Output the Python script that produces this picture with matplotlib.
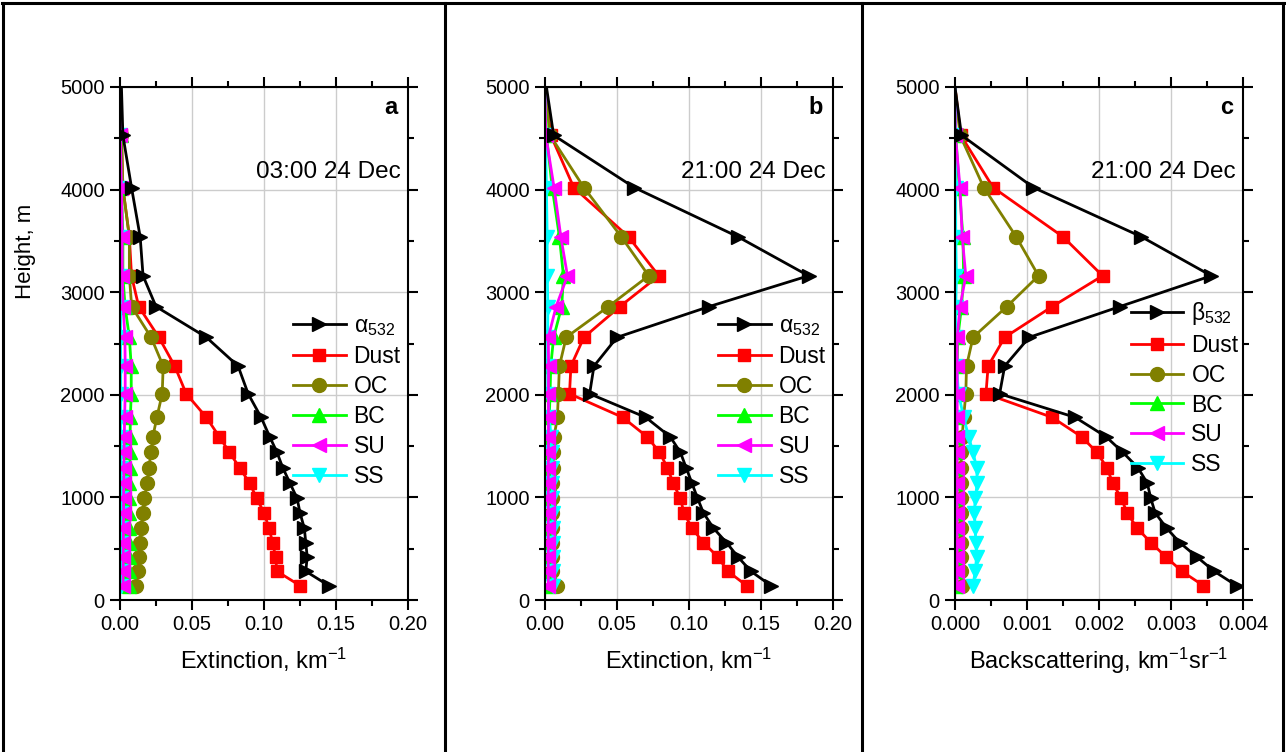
import matplotlib
matplotlib.use('Agg')
import matplotlib.pyplot as plt
from matplotlib.lines import Line2D
from matplotlib.ticker import MultipleLocator, FormatStrFormatter

plt.rcParams['font.family'] = 'Liberation Sans'
plt.rcParams['mathtext.fontset'] = 'custom'
plt.rcParams['mathtext.rm'] = 'Liberation Sans'
plt.rcParams['mathtext.it'] = 'Liberation Sans'

# heights of the profile levels (m), shared by all panels
heights = [140, 280, 420, 560, 700, 850, 990, 1140, 1290, 1440, 1590,
           1780, 2010, 2280, 2560, 2860, 3160, 3540, 4020, 4530, 5000]

# panel a: extinction 03:00 24 Dec
alpha_a = [0.145, 0.129, 0.130, 0.129, 0.128, 0.125, 0.123, 0.118, 0.113, 0.109, 0.104,
           0.098, 0.089, 0.082, 0.060, 0.025, 0.016, 0.014, 0.008, 0.002, 0.001]
dust_a = [0.125, 0.109, 0.108, 0.106, 0.1035, 0.100, 0.095, 0.090, 0.083, 0.076, 0.069,
          0.060, 0.046, 0.038, 0.027, 0.013, 0.008, 0.0065, 0.002, 0.001, 0.0]
oc_a = [0.011, 0.0123, 0.0135, 0.014, 0.0147, 0.0158, 0.017, 0.0188, 0.020, 0.0216, 0.0228,
        0.0256, 0.0293, 0.030, 0.0216, 0.0081, 0.0065, 0.0065, 0.002, 0.001, 0.0]
bc_a = [0.006, 0.006, 0.006, 0.006, 0.0062, 0.0062, 0.0065, 0.0065, 0.0068, 0.007, 0.007,
        0.0072, 0.0078, 0.0078, 0.0065, 0.0035, 0.002, 0.002, 0.001, 0.0005, 0.0]
su_a = [0.0022, 0.0022, 0.0023, 0.0023, 0.0024, 0.0025, 0.0025, 0.0026, 0.0027, 0.0028, 0.003,
        0.0032, 0.0036, 0.0036, 0.0034, 0.0022, 0.0016, 0.0015, 0.001, 0.0003, 0.0]
ss_a = [0.0007, 0.0007, 0.0006, 0.0006, 0.0006, 0.0006, 0.0005, 0.0005, 0.0005, 0.0005, 0.0005,
        0.0005, 0.0005, 0.0005, 0.0004, 0.0004, 0.0003, 0.0003, 0.0002, 0.0001, 0.0]

# panel b: extinction 21:00 24 Dec
alpha_b = [0.157, 0.143, 0.134, 0.126, 0.117, 0.110, 0.106, 0.102, 0.098, 0.094, 0.087,
           0.070, 0.031, 0.034, 0.050, 0.114, 0.183, 0.134, 0.062, 0.006, 0.001]
dust_b = [0.140, 0.127, 0.120, 0.110, 0.102, 0.0965, 0.094, 0.089, 0.085, 0.0795, 0.071,
          0.054, 0.017, 0.018, 0.027, 0.052, 0.079, 0.058, 0.020, 0.004, 0.0]
oc_b = [0.008, 0.005, 0.005, 0.005, 0.005, 0.005, 0.005, 0.0052, 0.0055, 0.0058, 0.0063,
        0.0086, 0.0093, 0.010, 0.0147, 0.044, 0.072, 0.053, 0.027, 0.0035, 0.0]
bc_b = [0.003, 0.003, 0.003, 0.003, 0.003, 0.003, 0.003, 0.003, 0.003, 0.003, 0.003,
        0.003, 0.0035, 0.004, 0.006, 0.0116, 0.0128, 0.010, 0.005, 0.001, 0.0]
su_b = [0.0023, 0.0023, 0.0023, 0.0023, 0.0023, 0.0023, 0.0023, 0.0023, 0.0023, 0.0024, 0.0024,
        0.0024, 0.0024, 0.0025, 0.0023, 0.0077, 0.0156, 0.011, 0.0063, 0.0005, 0.0]
ss_b = [0.0055, 0.0055, 0.0055, 0.0055, 0.0055, 0.0055, 0.0052, 0.005, 0.005, 0.0048, 0.0042,
        0.003, 0.002, 0.0018, 0.0018, 0.002, 0.0016, 0.0015, 0.001, 0.0003, 0.0]

# panel c: backscattering 21:00 24 Dec
beta_c = [0.00391, 0.00360, 0.00336, 0.00312, 0.00294, 0.00278, 0.00272, 0.00267, 0.00254, 0.00233, 0.00210,
          0.00167, 0.00062, 0.00069, 0.00103, 0.00229, 0.00356, 0.00259, 0.00109, 0.00009, 0.0]
dust_c = [0.00345, 0.00315, 0.00293, 0.00272, 0.00253, 0.00239, 0.00231, 0.00219, 0.00211, 0.00197, 0.00176,
          0.00135, 0.00043, 0.00046, 0.00069, 0.00135, 0.00205, 0.00150, 0.00053, 0.00008, 0.0]
oc_c = [0.0001, 0.00008, 0.00008, 0.00008, 0.00008, 0.00008, 0.00008, 0.00008, 0.00008, 0.00009, 0.0001,
        0.00012, 0.00015, 0.00016, 0.00025, 0.00072, 0.00116, 0.00085, 0.0004, 0.00007, 0.0]
bc_c = [0.00002, 0.00002, 0.00002, 0.00002, 0.00002, 0.00002, 0.00002, 0.00002, 0.00002, 0.00002, 0.00002,
        0.00002, 0.00002, 0.00003, 0.00004, 0.00009, 0.00012, 0.00011, 0.00006, 0.00001, 0.0]
su_c = [0.00003, 0.00003, 0.00003, 0.00003, 0.00003, 0.00003, 0.00003, 0.00003, 0.00003, 0.00003, 0.00003,
        0.00003, 0.00003, 0.00003, 0.00003, 0.00007, 0.00015, 0.0001, 0.00007, 0.000005, 0.0]
ss_c = [0.00025, 0.00028, 0.0003, 0.00029, 0.00028, 0.00027, 0.00028, 0.00031, 0.0003, 0.00025, 0.00019,
        0.00012, 0.00005, 0.00002, 0.00001, 0.00001, 0.00002, 0.00001, 0.00001, 0.0, 0.0]

names = ['Dust', 'OC', 'BC', 'SU', 'SS']
colors = ['#ff0000', '#808000', '#00ff00', '#ff00ff', '#00ffff']
markers = ['s', 'o', '^', '<', 'v']
msizes = [9, 10, 10, 10, 10]

panels = [
    dict(total=alpha_a, comps=[dust_a, oc_a, bc_a, su_a, ss_a], tlabel=r'$\alpha_{532}$',
         letter='a', date='03:00 24 Dec', xmax=0.20, xstep=0.05, fmt='%.2f',
         xlabel=r'Extinction, km$^{-1}$', left=120, leg=(0.60, 0.557)),
    dict(total=alpha_b, comps=[dust_b, oc_b, bc_b, su_b, ss_b], tlabel=r'$\alpha_{532}$',
         letter='b', date='21:00 24 Dec', xmax=0.20, xstep=0.05, fmt='%.2f',
         xlabel=r'Extinction, km$^{-1}$', left=545, leg=(0.60, 0.557)),
    dict(total=beta_c, comps=[dust_c, oc_c, bc_c, su_c, ss_c], tlabel=r'$\beta_{532}$',
         letter='c', date='21:00 24 Dec', xmax=0.004, xstep=0.001, fmt='%.3f',
         xlabel=r'Backscattering, km$^{-1}$sr$^{-1}$', left=955, leg=(0.61, 0.585)),
]

W, H = 1286, 752
fig = plt.figure(figsize=(W / 100, H / 100), dpi=100)

# frame lines of the table
lw_frame = 2.2
fig.add_artist(Line2D([2 / W, 1284 / W], [1 - 3 / H, 1 - 3 / H], color='black', lw=lw_frame))
for xp in [3, 445, 862, 1283]:
    fig.add_artist(Line2D([xp / W, xp / W], [0, 1 - 3 / H], color='black', lw=lw_frame))

for p in panels:
    ax = fig.add_axes([p['left'] / W, 1 - 600 / H, 288 / W, 513 / H])
    handles = []
    # total profile on top, components below it (SU drawn over SS)
    ax.plot(p['total'][-2:], heights[-2:], color='black', lw=2, zorder=3)
    h, = ax.plot(p['total'][:-1], heights[:-1], color='black', lw=2, marker='>',
                 markersize=10, label=p['tlabel'], zorder=3)
    handles.append(h)
    comp_handles = {}
    for i in [0, 1, 2, 4, 3]:
        vals = p['comps'][i]
        ax.plot(vals[-2:], heights[-2:], color=colors[i], lw=2)
        h, = ax.plot(vals[:-1], heights[:-1], color=colors[i], lw=2, marker=markers[i],
                     markersize=msizes[i], label=names[i])
        comp_handles[i] = h
    handles += [comp_handles[i] for i in range(5)]

    ax.set_xlim(0, p['xmax'])
    ax.set_ylim(0, 5000)
    ax.xaxis.set_major_locator(MultipleLocator(p['xstep']))
    ax.xaxis.set_minor_locator(MultipleLocator(p['xstep'] / 2))
    ax.xaxis.set_major_formatter(FormatStrFormatter(p['fmt']))
    ax.yaxis.set_major_locator(MultipleLocator(1000))
    ax.yaxis.set_minor_locator(MultipleLocator(500))
    ax.grid(True, which='major', color='#cccccc', lw=1)
    ax.set_axisbelow(True)
    ax.tick_params(which='both', direction='out', top=True, right=True, width=1.5,
                   labelsize=14.5, pad=4)
    ax.tick_params(which='major', length=7)
    ax.tick_params(which='minor', length=4)
    for s in ax.spines.values():
        s.set_linewidth(1.5)

    ax.set_xlabel(p['xlabel'], fontsize=17, labelpad=8)
    if p['letter'] == 'a':
        ax.set_ylabel('Height, m', fontsize=16)
        ax.yaxis.set_label_coords(-0.29, 0.68)

    ax.text(0.965, 0.96, p['letter'], transform=ax.transAxes, ha='right', va='center',
            fontsize=17, fontweight='bold')
    ax.text(0.975, 0.835, p['date'], transform=ax.transAxes, ha='right', va='center',
            fontsize=17.5)

    ax.legend(handles=handles, loc='upper left', bbox_to_anchor=p['leg'], frameon=False,
              fontsize=16.5, handlelength=2.3, handletextpad=0.35, labelspacing=0.3,
              borderpad=0, borderaxespad=0)

fig.savefig('out.png', dpi=100)
